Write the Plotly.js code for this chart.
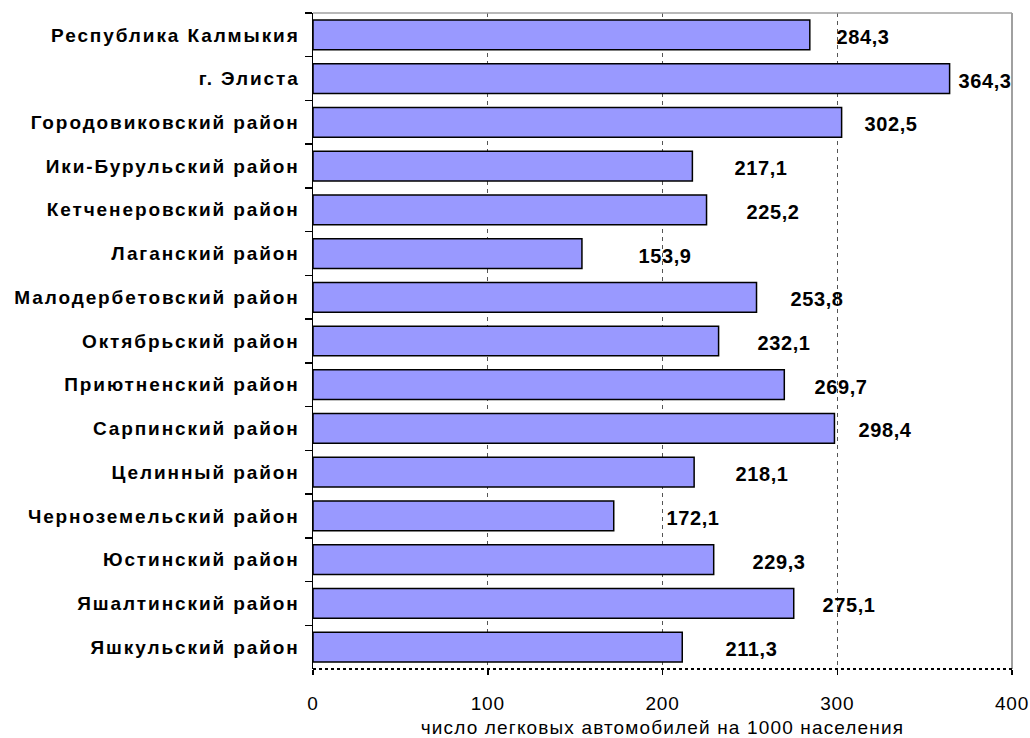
<!DOCTYPE html>
<html>
<head>
<meta charset="utf-8">
<script src="https://cdn.plot.ly/plotly-3.0.1.min.js"></script>
<style>
html,body{margin:0;padding:0;background:#fff;}
#chart{width:1030px;height:738px;}
#chart .ytick text{letter-spacing:1.9px;}
#chart .xtick text{letter-spacing:0.8px;}
#chart .xtitle{letter-spacing:1.15px;}
#chart .annotation-text{letter-spacing:0.6px;}
</style>
</head>
<body>
<div id="chart"></div>
<script>
const categories = [
  "Республика Калмыкия",
  "г. Элиста",
  "Городовиковский район",
  "Ики-Бурульский район",
  "Кетченеровский район",
  "Лаганский район",
  "Малодербетовский район",
  "Октябрьский район",
  "Приютненский район",
  "Сарпинский район",
  "Целинный район",
  "Черноземельский район",
  "Юстинский район",
  "Яшалтинский район",
  "Яшкульский район"
];
const values = [284.3, 364.3, 302.5, 217.1, 225.2, 153.9, 253.8, 232.1, 269.7, 298.4, 218.1, 172.1, 229.3, 275.1, 211.3];
const xTicks = [0, 100, 200, 300, 400];
const xTitle = "число легковых автомобилей на 1000 населения";

const FONT = "'Liberation Sans', Arial, sans-serif";

const trace = {
  type: 'bar',
  orientation: 'h',
  y: categories,
  x: values,
  marker: {color: '#9999FF', line: {color: '#000000', width: 1.5}},
  hoverinfo: 'none'
};

const annotations = values.map((v, i) => ({
  x: 52 + 0.87 * v,
  y: categories[i],
  xref: 'x', yref: 'y',
  xanchor: 'left', yanchor: 'middle',
  yshift: -2,
  text: v.toFixed(1).replace('.', ','),
  showarrow: false,
  font: {family: FONT, size: 20, color: '#000', weight: 'bold'}
}));

const layout = {
  width: 1030, height: 738,
  margin: {l: 313, r: 18, t: 13, b: 69},
  paper_bgcolor: '#fff', plot_bgcolor: '#fff',
  showlegend: false,
  bargap: 0.32,
  xaxis: {
    range: [0, 400],
    tickvals: xTicks,
    ticktext: xTicks.map(String),
    ticks: 'outside', ticklen: 5, tickwidth: 1.5, tickcolor: '#000',
    showline: false, zeroline: false,
    showgrid: true, gridcolor: '#555', gridwidth: 1, griddash: '4px,4px',
    ticklabelstandoff: 12,
    tickfont: {family: FONT, size: 19, color: '#000'},
    title: {text: xTitle, font: {family: FONT, size: 19, color: '#000'}, standoff: 7},
    fixedrange: true
  },
  yaxis: {
    type: 'category',
    autorange: 'reversed',
    tickson: 'boundaries',
    ticks: 'outside', ticklen: 7, tickwidth: 1.5, tickcolor: '#000',
    showline: true, linecolor: '#000', linewidth: 1.5,
    showgrid: false, zeroline: false,
    ticklabelstandoff: 8,
    tickfont: {family: FONT, size: 19, color: '#000', weight: 'bold'},
    fixedrange: true
  },
  annotations: annotations,
  shapes: [
    {type: 'line', xref: 'paper', yref: 'paper', x0: 0, x1: 1, y0: 1, y1: 1, line: {color: '#a0a0a0', width: 1.5}},
    {type: 'line', xref: 'paper', yref: 'paper', x0: 1, x1: 1, y0: 0, y1: 1, line: {color: '#a0a0a0', width: 2}},
    {type: 'line', xref: 'paper', yref: 'paper', x0: 0, x1: 1, y0: 0, y1: 0, line: {color: '#000', width: 2, dash: 'dot'}}
  ]
};

Plotly.newPlot('chart', [trace], layout, {staticPlot: true, displayModeBar: false});
</script>
</body>
</html>
